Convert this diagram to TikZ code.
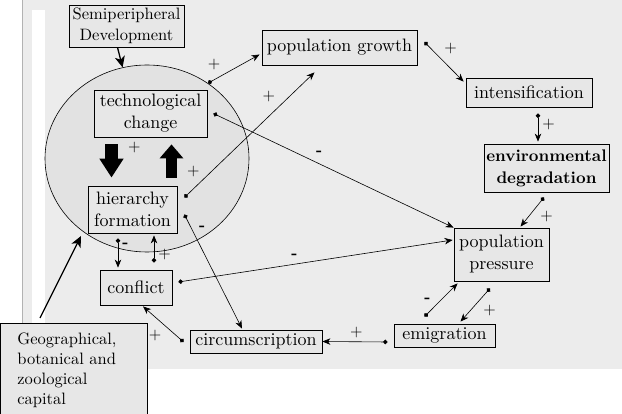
\documentclass[tikz,border=0pt]{standalone}
\usepackage{fontspec}
\setmainfont{lmroman10-regular.otf}[BoldFont=lmroman10-bold.otf]
\usepackage{tikz}
\usetikzlibrary{arrows.meta,shapes.geometric}

\definecolor{paper}{gray}{0.925}
\definecolor{boxgray}{gray}{0.905}
\definecolor{coregray}{gray}{0.885}

\begin{document}
\begin{tikzpicture}[x=1pt,y=-1pt,
        box/.style={draw, line width=0.8pt, fill=boxgray, inner sep=0pt, align=center,
                    font=\fontsize{18}{22}\selectfont},
        sign/.style={inner sep=4pt, font=\fontsize{16}{16}\selectfont},
        link/.style={line width=0.6pt, auto,
                     {Circle[length=4.5pt]}-{Stealth[length=8pt,width=6.5pt,inset=2.5pt]}},
        feed/.style={line width=1.3pt, -{Stealth[length=11pt,width=10pt,inset=3pt]}},
        block/.style 2 args={line width=#1, -{Triangle[length=#2,width=23pt]}}]
        \useasboundingbox (0,0) rectangle (622,414);

        % sheet
        \fill[paper] (22,0) rectangle (622,369);
        \fill[white] (32,10) rectangle (45,369);
        \draw[gray!60] (22,0) -- (22,369);

        \node[draw, line width=0.6pt, ellipse, fill=coregray, inner sep=0pt,
              minimum width=204pt, minimum height=187pt] (core) at (147,158.5) {};

        \node[box, minimum width=115pt, minimum height=42pt,
              font=\fontsize{16.5}{21}\selectfont]       (semi)     at (126.5,26)    {Semiperipheral\\Development};
        \node[box, minimum width=113pt, minimum height=47pt] (tech)     at (150.5,113.5) {technological\\change};
        \node[box, minimum width=89pt,  minimum height=47pt] (hier)     at (132.5,209.5) {hierarchy\\formation};
        \node[box, minimum width=72pt,  minimum height=35pt] (conflict) at (136,287.5)   {conflict};
        \node[box, minimum width=132pt, minimum height=23pt] (circ)     at (256,341.5)   {circumscription};
        \node[box, minimum width=101pt, minimum height=23pt] (emig)     at (444.5,335.5) {emigration};
        \node[box, minimum width=95pt,  minimum height=53pt] (pp)       at (501.5,254.5) {population\\pressure};
        \node[box, minimum width=125pt, minimum height=48pt,
              font=\fontsize{16.8}{22}\selectfont\bfseries] (env)      at (546.5,168)   {environmental\\degradation};
        \node[box, minimum width=126pt, minimum height=29pt] (intens)   at (529,92.5)    {intensification};
        \node[box, minimum width=155pt, minimum height=35pt] (pg)       at (339.5,47.5)  {population growth};
        \node[box, anchor=north west, align=left, text width=113pt, inner xsep=17pt,
              minimum height=93pt, font=\fontsize{16.5}{20}\selectfont]
                                                             (geo)      at (0,323)       {Geographical,\\botanical and\\zoological\\capital};
        \coordinate (geotip) at (81,236);

        % outside influences
        \draw[feed] ([xshift=-9pt]semi.south) -- (core.105);
        \draw[feed] ([shift={(40,-5)}]geo.north west) -- (geotip);

        % inside the core
        \draw[block={13pt}{19pt}, shorten <=7pt, shorten >=8pt]
            ([xshift=-39pt]tech.south) -- node[sign, pos=.2, right=6pt] (s15) {+} ([xshift=-21pt]hier.north);
        \draw[block={11pt}{14pt}, shorten <=8pt, shorten >=7pt]
            ([xshift=39pt]hier.north) -- node[sign, pos=.29, right=6pt] (s16) {+} ([xshift=21pt]tech.south);

        \path[link]
        (core.51)
        edge node[sign, pos=.32]       (s1)  {+}            ([shift={(-2,7)}]pg.west)

        ([shift={(6,0)}]tech.east)
        edge node[sign, pos=.41]       (s2)  {\textbf{-}}   (pp.north west)

        ([shift={(7,-12)}]hier.east)
        edge node[sign, pos=.73]       (s3)  {+}            ([shift={(-25,7)}]pg.south)

        ([shift={(7,5)}]hier.east)
        edge node[sign, pos=.18]       (s4)  {\textbf{-}}   ([shift={(-14,-1)}]circ.north)

        ([shift={(-14.5,5)}]hier.south)
        edge node[sign, pos=.23]       (s5)  {\textbf{-}}   ([shift={(-18,-2)}]conflict.north)

        ([shift={(18,-7)}]conflict.north)
        edge node[sign, pos=.29, swap] (s6)  {+}            ([shift={(21.5,2)}]hier.south)

        ([shift={(6,-5.5)}]conflict.east)
        edge node[sign, pos=.45]       (s7)  {\textbf{-}}   ([shift={(-1,-14.5)}]pp.west)

        ([shift={(-6,0.5)}]circ.west)
        edge node[sign, pos=.44]       (s8)  {+}            ([shift={(7,1)}]conflict.south)

        ([shift={(-6,6.5)}]emig.west)
        edge node[sign, pos=.48, swap] (s9)  {+}            (circ.east)

        ([shift={(-20,-7)}]emig.north)
        edge node[sign, pos=.31]       (s10) {\textbf{-}}   ([shift={(4,2)}]pp.south west)

        ([shift={(-11.5,7)}]pp.south)
        edge node[sign, pos=.37]       (s11) {+}            ([shift={(16,-2)}]emig.north)

        ([shift={(-2.5,5)}]env.south)
        edge node[sign, pos=.34]       (s12) {+}            ([shift={(19,-1)}]pp.north)

        ([shift={(9,6)}]intens.south)
        edge node[sign, pos=.38]       (s13) {+}            ([shift={(-8.5,-2)}]env.north)

        ([shift={(7,-5.5)}]pg.east)
        edge node[sign, pos=.40]       (s14) {+}            ([shift={(-2,4)}]intens.north west);

    \end{tikzpicture}
\end{document}
